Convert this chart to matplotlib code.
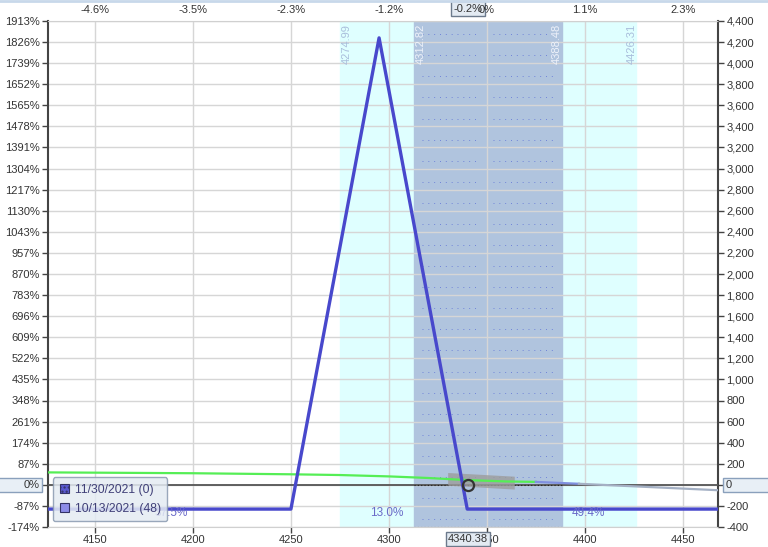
import numpy as np
import matplotlib
matplotlib.use("Agg")
import matplotlib.pyplot as plt
from matplotlib.patches import Patch, Rectangle
from matplotlib.lines import Line2D

plt.rcParams['font.family'] = ['Liberation Sans', 'DejaVu Sans']
plt.rcParams['font.size'] = 8

# ----- data
risk = 230.0
price_now = 4340.38
price_ref = 4351.0
x_range = [4126, 4468]
y_range = [-400, 4400]
y_step = 200
x_ticks = [4150, 4200, 4250, 4300, 4350, 4400, 4450]

# expiration P&L (11/30/2021)
exp_price = [4126, 4250, 4295, 4340, 4468]
exp_pnl = [-230, -230, 4240, -230, -230]

# current date P&L (10/13/2021)
t0_price = [4126, 4200, 4250, 4275, 4300, 4320, 4340, 4360, 4375]
t0_pnl = [118, 110, 100, 93, 80, 65, 45, 32, 28]
tail_price = [4375, 4397, 4468]
tail_pnl = [28, 10, -51]

# uncertainty band near current price
band_price = [4330, 4364]
band_hi = [117, 82]
band_lo = [-4, -40]

# expected move ranges
outer_lo, outer_hi = 4274.99, 4426.31
inner_lo, inner_hi = 4312.82, 4388.48

# probabilities by zone
prob_labels = ['37.5%', '13.0%', '49.4%']
prob_price = [4189, 4299, 4402]

legend_labels = ['11/30/2021 (0)', '10/13/2021 (48)']


def pct_label(p):
    s = f'{(p / price_ref - 1) * 100:.1f}%'
    return '0%' if s in ('0.0%', '-0.0%') else s


fig = plt.figure(figsize=(7.68, 5.47), dpi=100)
ax = fig.add_axes([48 / 768, 20 / 547, 670 / 768, 506 / 547])
ax.set_xlim(x_range)
ax.set_ylim(y_range)

# shaded ranges
ax.axvspan(outer_lo, outer_hi, color='#dfffff', zorder=0)
ax.axvspan(inner_lo, inner_hi, color='#b0c4de', zorder=0)

# grid
yt = np.arange(y_range[0], y_range[1] + 1, y_step)
ax.set_yticks(yt)
ax.set_xticks(x_ticks)
ax.grid(True, color='#d6d6d6', lw=1.0, zorder=1)

# faint dotted rows inside inner range
for v in yt[:-1] + 75:
    ax.plot([inner_lo + 4, price_now + 5], [v, v], color='#7084d8', lw=0.7,
            ls=(0, (1, 5)), zorder=2)
    ax.plot([price_now + 13, inner_hi - 3], [v, v], color='#7084d8', lw=0.7,
            ls=(0, (1, 5)), zorder=2)
ax.plot([inner_lo, inner_hi], [y_range[0] + 3, y_range[0] + 3], color='#333333',
        lw=0.8, ls=(0, (1, 2)), zorder=2)

# zero line
ax.axhline(0, color='#555555', lw=1.3, zorder=3)
ax.plot([inner_lo, inner_hi], [0, 0], color='#222222', lw=0.8, ls=(0, (1, 2)), zorder=3)

# band and lines
ax.fill_between(band_price, band_lo, band_hi, color='#9c9c9c', alpha=0.8, lw=0, zorder=3)
ax.plot(t0_price, t0_pnl, color='#55ee55', lw=1.6, zorder=4)
ax.plot(tail_price[:2], tail_pnl[:2], color='#8090e0', lw=1.6, zorder=4)
ax.plot(tail_price[1:], tail_pnl[1:], color='#a4b0c4', lw=1.6, zorder=4)
ax.plot(exp_price, exp_pnl, color='#4848cc', lw=2.4, zorder=5)
ax.plot([price_now], [0], marker='o', ms=8, mfc='none', mec='#333333', mew=1.6, zorder=6)

# range labels
for p, dx, col in [(outer_lo, 5, '#a9bedc'), (inner_lo, 5, '#eef2fa'),
                   (inner_hi, -4, '#eef2fa'), (outer_hi, -3, '#a9bedc')]:
    ax.annotate(f'{p:.2f}', xy=(p, y_range[1]), xytext=(dx, -2), textcoords='offset points',
                rotation=90, ha='center', va='top', color=col, fontsize=8, zorder=7)

for lab, p in zip(prob_labels, prob_price):
    ax.annotate(lab, xy=(p, y_range[0]), xytext=(0, 10), textcoords='offset points',
                ha='center', va='center', color='#6a6ac8', fontsize=8.5, zorder=7)

# axes styling
for s in ['left', 'right']:
    ax.spines[s].set_color('#444444')
    ax.spines[s].set_linewidth(1.5)
for s in ['top', 'bottom']:
    ax.spines[s].set_color('#d0d0d0')
ax.set_yticklabels(['' if v == 0 else f'{round(v / risk * 100)}%' for v in yt])
ax.tick_params(axis='y', colors='#444444', labelcolor='#333333', length=4, width=1, pad=2)
ax.tick_params(axis='x', colors='#444444', labelcolor='#333333', length=4, width=1, pad=1.5)

axr = ax.twinx()
axr.set_ylim(y_range)
axr.set_yticks(yt)
axr.set_yticklabels(['' if v == 0 else f'{v:,}' for v in yt])
axr.tick_params(axis='y', colors='#444444', labelcolor='#333333', length=4, width=1, pad=2)
for s in axr.spines.values():
    s.set_visible(False)

axt = ax.twiny()
axt.set_xlim(x_range)
axt.set_xticks(x_ticks)
axt.set_xticklabels([pct_label(p) for p in x_ticks])
axt.tick_params(axis='x', length=0, labelcolor='#333333', pad=4)
for s in axt.spines.values():
    s.set_visible(False)

# highlighted current price boxes
box = dict(boxstyle='square,pad=0.2', fc='#e3eaf2', ec='#6c7a8c', lw=1)
ax.annotate(pct_label(price_now), xy=(price_now, y_range[1]),
            xytext=(0, 9), textcoords='offset points', ha='center', va='center',
            fontsize=8, color='#333333', bbox=box, zorder=10, annotation_clip=False)
ax.annotate(f'{price_now:.2f}', xy=(price_now, y_range[0]), xytext=(0, -8.5),
            textcoords='offset points', ha='center', va='center',
            fontsize=8, color='#333333', bbox=box, zorder=10, annotation_clip=False)

# zero value boxes on both sides
y0 = ax.transData.transform((0, 0))[1] / fig.bbox.height
h0 = 14 / 547
fig.add_artist(Rectangle((-0.01, y0 - h0 / 2), 0.01 + 42 / 768, h0, transform=fig.transFigure,
                         fc='#e8eff6', ec='#8aa0bc', lw=1))
fig.add_artist(Rectangle((723 / 768, y0 - h0 / 2), 50 / 768, h0, transform=fig.transFigure,
                         fc='#e8eff6', ec='#8aa0bc', lw=1))
fig.text(40 / 768, y0, '0%', ha='right', va='center', fontsize=8, color='#333333')
fig.text(726 / 768, y0, '0', ha='left', va='center', fontsize=8, color='#333333')

# legend
handles = [Patch(fc='#5a5ad0', ec='#333366', hatch='....', lw=0.8),
           Patch(fc='#8c8ce8', ec='#333366', lw=0.8)]
leg = ax.legend(handles, legend_labels, loc='lower left', bbox_to_anchor=(0.002, 0.004),
                fancybox=True, framealpha=0.85, facecolor='#e4ebf3', edgecolor='#8a9ab0',
                fontsize=8.7, handlelength=0.75, handleheight=0.75, handletextpad=0.5,
                borderpad=0.55, labelspacing=0.55, borderaxespad=0.3)
for t in leg.get_texts():
    t.set_color('#404078')
leg.set_zorder(20)

fig.add_artist(Line2D([0, 1], [0.998, 0.998], color='#c8d8ea', lw=2))

fig.savefig('out.png', dpi=100)
